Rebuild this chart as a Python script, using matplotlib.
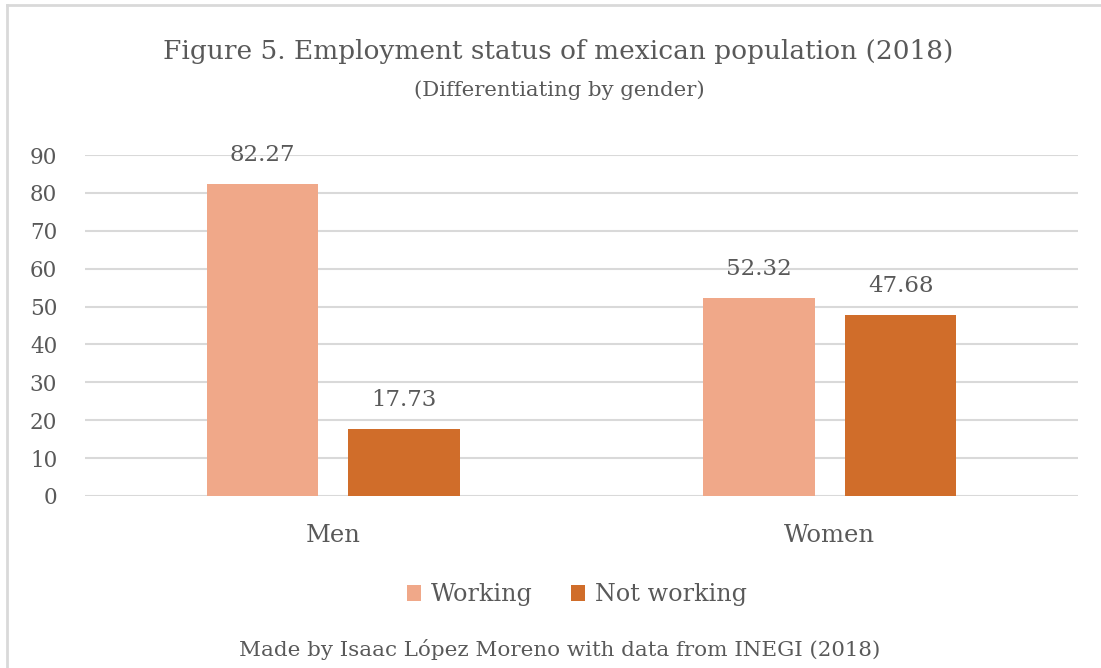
import numpy as np
import matplotlib.pyplot as plt
from matplotlib.lines import Line2D

groups = ["Men", "Women"]
series = ["Working", "Not working"]
working = [82.27, 52.32]
not_working = [17.73, 47.68]
yticks = [0, 10, 20, 30, 40, 50, 60, 70, 80, 90]

c_work = "#F0A889"
c_not = "#D06D2A"
txt = "#595959"
grid = "#D9D9D9"

plt.rcParams['font.family'] = ['DejaVu Serif']

fig = plt.figure(figsize=(11.01, 6.68), dpi=100)
# chart frame (only top and left edges fall inside the picture)
fig.add_artist(Line2D([7/1101, 1.05], [1 - 5/668] * 2, transform=fig.transFigure,
                      color=grid, linewidth=2))
fig.add_artist(Line2D([7/1101] * 2, [-0.05, 1 - 5/668], transform=fig.transFigure,
                      color=grid, linewidth=2))

ax = fig.add_axes([85/1101, 1 - 496/668, (1078 - 85)/1101, (496 - 155)/668])
x = np.arange(len(groups))
w = 0.2236
off = 0.1425
b1 = ax.bar(x - off, working, w, color=c_work, label=series[0], zorder=3)
b2 = ax.bar(x + off, not_working, w, color=c_not, label=series[1], zorder=3)

for bars in (b1, b2):
    for r in bars:
        ax.annotate(f"{r.get_height():.2f}", (r.get_x() + r.get_width()/2, r.get_height()),
                    xytext=(0, 13), textcoords="offset points", ha="center", va="bottom",
                    fontsize=16.5, color=txt)

ax.set_xlim(-0.5, 1.5)
ax.set_ylim(0, 90)
ax.set_yticks(yticks)
ax.set_xticks(x)
ax.set_xticklabels(groups, fontsize=17.5)
ax.tick_params(axis='both', length=0, labelcolor=txt)
ax.tick_params(axis='y', pad=20, labelsize=15.5)
ax.tick_params(axis='x', pad=20)
ax.grid(axis='y', color=grid, linewidth=1.5, zorder=0)
for s in ax.spines.values():
    s.set_visible(False)

fig.text(0.507, 1 - 52/668, "Figure 5. Employment status of mexican population (2018)",
         ha="center", va="center", fontsize=19, color=txt)
fig.text(0.508, 1 - 90/668, "(Differentiating by gender)", ha="center", va="center",
         fontsize=15.3, color=txt)

leg = fig.legend(loc="center", bbox_to_anchor=(577/1101, 1 - 595/668), ncol=2, frameon=False,
                 fontsize=17.2, handlelength=0.6, handleheight=0.6, handletextpad=0.4,
                 columnspacing=1.6)
for t in leg.get_texts():
    t.set_color(txt)

fig.text(560/1101, 1 - 650/668, "Made by Isaac López Moreno with data from INEGI (2018)",
         ha="center", va="center", fontsize=15.4, color=txt)

fig.savefig("out.png", dpi=100)
